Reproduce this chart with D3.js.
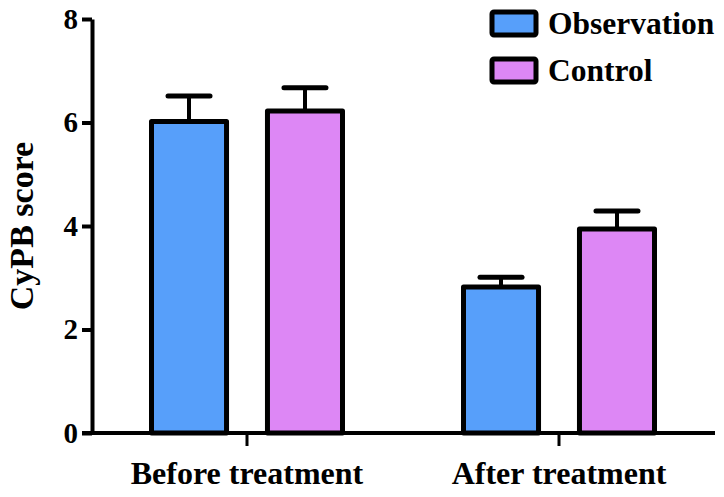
<!DOCTYPE html>
<html><head><meta charset="utf-8">
<script src="https://cdn.jsdelivr.net/npm/d3@7"></script>
<style>body{margin:0;background:#fff}</style>
</head><body>
<svg id="c" width="724" height="497"></svg>
<script>
const categories = ["Before treatment", "After treatment"];
const series = ["Observation", "Control"];
const observationMeans = [6.02, 2.82];
const observationErr = [0.49, 0.19];
const controlMeans = [6.22, 3.94];
const controlErr = [0.45, 0.35];
const yTicks = [0, 2, 4, 6, 8];
const colors = ["#579ffa", "#dd87f5"];

const data = categories.map((c, i) => ({
  cat: c,
  vals: [
    {s: series[0], v: observationMeans[i], e: observationErr[i]},
    {s: series[1], v: controlMeans[i], e: controlErr[i]}
  ]
}));

const svg = d3.select("#c");
const font = "'Liberation Serif','Times New Roman',serif";
const y = d3.scaleLinear().domain([0, 8]).range([433, 19]);
const x0 = d3.scaleBand().domain(categories).range([91, 715]);
const x1 = d3.scaleBand().domain(series).range([-95.5, 95.5]).paddingInner(0.353);
const color = d3.scaleOrdinal().domain(series).range(colors);

// bars + error bars
const g = svg.append("g").selectAll("g").data(data).join("g")
  .attr("transform", d => `translate(${x0(d.cat) + x0.bandwidth() / 2},0)`);

g.selectAll("g.err").data(d => d.vals).join("g").attr("class", "err").each(function(d) {
  const cx = x1(d.s) + x1.bandwidth() / 2;
  const s = d3.select(this);
  s.append("line").attr("x1", cx).attr("x2", cx).attr("y1", y(d.v)).attr("y2", y(d.v + d.e))
    .attr("stroke", "#000").attr("stroke-width", 4);
  s.append("line").attr("x1", cx - 21).attr("x2", cx + 21).attr("y1", y(d.v + d.e)).attr("y2", y(d.v + d.e))
    .attr("stroke", "#000").attr("stroke-width", 5).attr("stroke-linecap", "round");
});

g.selectAll("rect").data(d => d.vals).join("rect")
  .attr("x", d => x1(d.s))
  .attr("width", x1.bandwidth())
  .attr("y", d => y(d.v))
  .attr("height", d => y(0) - y(d.v))
  .attr("fill", d => color(d.s))
  .attr("stroke", "#000").attr("stroke-width", 5).attr("stroke-linejoin", "round");

// y axis
const ya = svg.append("g").attr("transform", "translate(92,0)")
  .call(d3.axisLeft(y).tickValues(yTicks).tickSize(10).tickSizeOuter(0).tickPadding(4));
ya.select(".domain").attr("stroke-width", 4);
ya.selectAll(".tick line").attr("stroke-width", 4);
ya.selectAll(".tick text").attr("font-family", font).attr("font-weight", "bold")
  .attr("font-size", 29).attr("fill", "#000");

// x axis
const xa = svg.append("g").attr("transform", "translate(0,433)")
  .call(d3.axisBottom(x0).tickSize(13).tickSizeOuter(0).tickPadding(15));
xa.select(".domain").attr("d", "M82,0H715").attr("stroke-width", 4);
xa.selectAll(".tick line").attr("stroke-width", 3);
xa.selectAll(".tick text").attr("font-family", font).attr("font-weight", "bold")
  .attr("font-size", 32).attr("fill", "#000");

// y title
svg.append("text").attr("transform", "translate(33,226) rotate(-90)")
  .attr("text-anchor", "middle").attr("font-family", font).attr("font-weight", "bold")
  .attr("font-size", 34).text("CyPB score");

// legend
const lg = svg.append("g").selectAll("g").data(series).join("g")
  .attr("transform", (d, i) => `translate(492,${12 + i * 47})`);
lg.append("rect").attr("width", 44).attr("height", 23).attr("rx", 2)
  .attr("fill", d => color(d)).attr("stroke", "#000").attr("stroke-width", 5);
lg.append("text").attr("x", 56).attr("y", 22).attr("font-family", font).attr("font-weight", "bold")
  .attr("font-size", 31.5).text(d => d);
</script>
</body></html>
